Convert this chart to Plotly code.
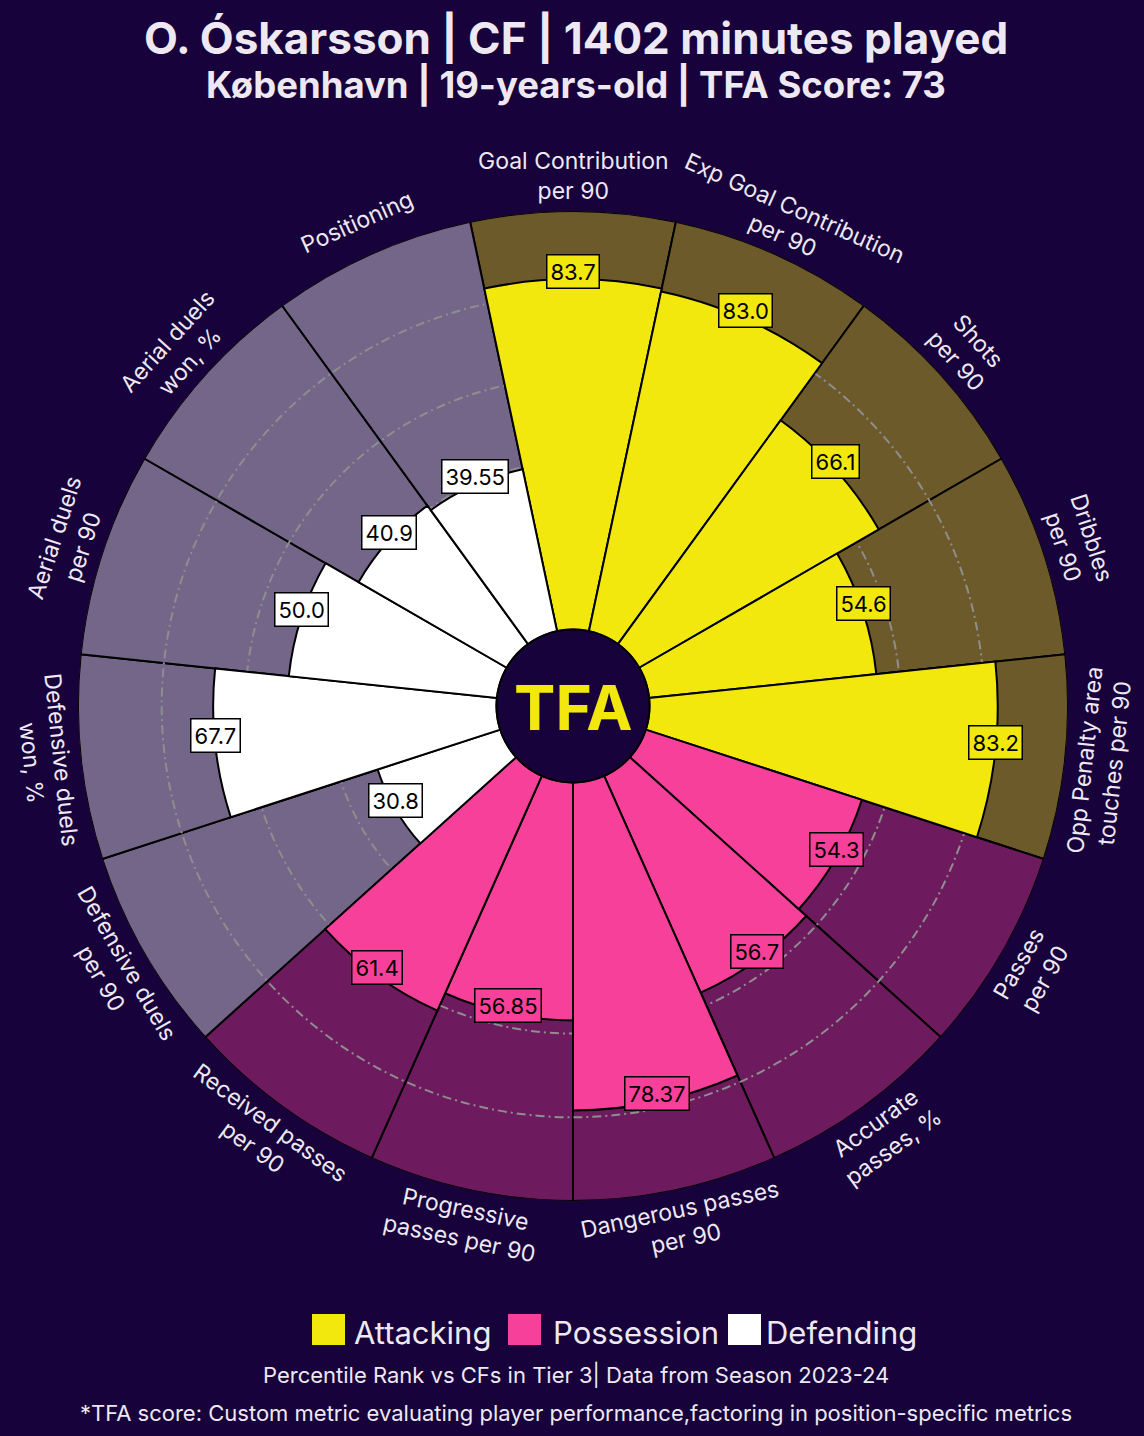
import math
import plotly.graph_objects as go

# ---------------- data ----------------
params = [
    "Goal Contribution<br>per 90", "Exp Goal Contribution<br>per 90", "Shots<br>per 90",
    "Dribbles<br>per 90", "Opp Penalty area<br>touches per 90",
    "Passes<br>per 90", "Accurate<br>passes, %", "Dangerous passes<br>per 90",
    "Progressive<br>passes per 90", "Received passes<br>per 90",
    "Defensive duels<br>per 90", "Defensive duels<br>won, %", "Aerial duels<br>per 90",
    "Aerial duels<br>won, %", "Positioning",
]
values = [83.7, 83.0, 66.1, 54.6, 83.2, 54.3, 56.7, 78.37, 56.85, 61.4,
          30.8, 67.7, 50.0, 40.9, 39.55]
groups = ["Attacking"] * 5 + ["Possession"] * 5 + ["Defending"] * 5
group_names = ["Attacking", "Possession", "Defending"]
max_value = 100
grid_values = [20, 40, 60, 80]

title = "O. Óskarsson | CF | 1402 minutes played"
subtitle = "København | 19-years-old | TFA Score: 73"
note1 = "Percentile Rank vs CFs in Tier 3| Data from Season 2023-24"
note2 = "*TFA score: Custom metric evaluating player performance,factoring in position-specific metrics"

# ---------------- style ----------------
BG = "#17023B"
TEXT = "#EEE8F2"
slice_colors = {"Attacking": "#F2E80D", "Possession": "#F7409A", "Defending": "#FFFFFF"}
back_colors = {"Attacking": "#6D5A2B", "Possession": "#6E1A5F", "Defending": "#736689"}
FONT = "Inter"

W, H = 1144, 1436
CX, CY, R, HOLE = 573, 706, 495, 76.5


def to_paper(x, y):
    return x / W, 1 - y / H


def polar_px(theta_deg, r_px):
    t = math.radians(theta_deg)
    return CX + r_px * math.sin(t), CY - r_px * math.cos(t)


n = len(params)
step = 360 / n
thetas = [i * step for i in range(n)]

fig = go.Figure()
fig.add_trace(go.Barpolar(
    r=[max_value] * n, theta=thetas, width=[step] * n,
    marker=dict(color=[back_colors[g] for g in groups], line=dict(color="black", width=2)),
    subplot="polar", showlegend=False, hoverinfo="skip"))
fig.add_trace(go.Barpolar(
    r=values, theta=thetas, width=[step] * n,
    marker=dict(color=[slice_colors[g] for g in groups], line=dict(color="black", width=2)),
    subplot="polar2", showlegend=False, hoverinfo="skip"))

dom = dict(x=[(CX - R) / W, (CX + R) / W], y=[1 - (CY + R) / H, 1 - (CY - R) / H])
ang = dict(rotation=90, direction="clockwise", showgrid=False, showticklabels=False,
           showline=False, ticks="")
fig.update_layout(
    width=W, height=H, margin=dict(l=0, r=0, t=0, b=0),
    paper_bgcolor=BG, plot_bgcolor=BG,
    font=dict(family=FONT, color=TEXT),
    polar=dict(domain=dom, hole=HOLE / R, bgcolor="rgba(0,0,0,0)", angularaxis=ang,
               radialaxis=dict(range=[0, max_value], showgrid=False, showticklabels=False,
                               showline=False, ticks="")),
    polar2=dict(domain=dom, hole=HOLE / R, bgcolor="rgba(0,0,0,0)", angularaxis=ang,
                radialaxis=dict(range=[0, max_value], tickvals=grid_values, showgrid=True,
                                gridcolor="#8E8E8E", gridwidth=1.5,
                                griddash="9px,4px,2px,4px",
                                showticklabels=False, showline=False, ticks="")),
)

annotations = []
shapes = []

# parameter labels
for th, p in zip(thetas, params):
    x, y = polar_px(th, R + 35)
    a = th
    if 90 < a < 270:
        a -= 180
    elif a >= 270:
        a -= 360
    px, py = to_paper(x, y)
    annotations.append(dict(x=px, y=py, xref="paper", yref="paper", text=p, showarrow=False,
                            textangle=a, xanchor="center", yanchor="middle", align="center",
                            font=dict(size=23, color=TEXT, family=FONT)))

# value labels
for th, v, g in zip(thetas, values, groups):
    r_px = HOLE + v / max_value * (R - HOLE)
    x, y = polar_px(th, r_px)
    px, py = to_paper(x, y - 8)
    annotations.append(dict(x=px, y=py, xref="paper", yref="paper", text=str(v), showarrow=False,
                            xanchor="center", yanchor="middle",
                            bgcolor=slice_colors[g], bordercolor="black", borderwidth=1.5,
                            borderpad=3, font=dict(size=22, color="black", family=FONT)))

# centre circle + logo
x0, y0 = to_paper(CX - HOLE, CY + HOLE)
x1, y1 = to_paper(CX + HOLE, CY - HOLE)
shapes.append(dict(type="circle", xref="paper", yref="paper", x0=x0, y0=y0, x1=x1, y1=y1,
                   fillcolor=BG, line=dict(color="black", width=2), layer="above"))
lx, ly = to_paper(CX, CY + 1)
annotations.append(dict(x=lx, y=ly, xref="paper", yref="paper", text="<b>TFA</b>", showarrow=False,
                        xanchor="center", yanchor="middle",
                        font=dict(size=62, color=slice_colors["Attacking"], family=FONT, weight=900)))

# titles
tx, ty = to_paper(576, 38)
annotations.append(dict(x=tx, y=ty, xref="paper", yref="paper", text=f"<b>{title}</b>", showarrow=False,
                        xanchor="center", yanchor="middle", font=dict(size=44, color=TEXT, family=FONT)))
tx, ty = to_paper(576, 85)
annotations.append(dict(x=tx, y=ty, xref="paper", yref="paper", text=f"<b>{subtitle}</b>", showarrow=False,
                        xanchor="center", yanchor="middle", font=dict(size=36.5, color=TEXT, family=FONT)))

# legend
leg_sq_x = [312, 508, 728]
leg_txt_x = [352, 551, 764]
for g, sx, txx in zip(group_names, leg_sq_x, leg_txt_x):
    a0, b0 = to_paper(sx, 1345)
    a1, b1 = to_paper(sx + 33, 1314)
    shapes.append(dict(type="rect", xref="paper", yref="paper", x0=a0, y0=b0, x1=a1, y1=b1,
                       fillcolor=slice_colors[g], line=dict(width=0)))
    px, py = to_paper(txx, 1332)
    annotations.append(dict(x=px, y=py, xref="paper", yref="paper", text=g, showarrow=False,
                            xanchor="left", yanchor="middle", font=dict(size=31, color=TEXT, family=FONT)))

for txt, yy in [(note1, 1374), (note2, 1413)]:
    px, py = to_paper(576, yy)
    annotations.append(dict(x=px, y=py, xref="paper", yref="paper", text=txt, showarrow=False,
                            xanchor="center", yanchor="middle", font=dict(size=22, color=TEXT, family=FONT)))

fig.update_layout(annotations=annotations, shapes=shapes)
fig.write_html("out.html")
